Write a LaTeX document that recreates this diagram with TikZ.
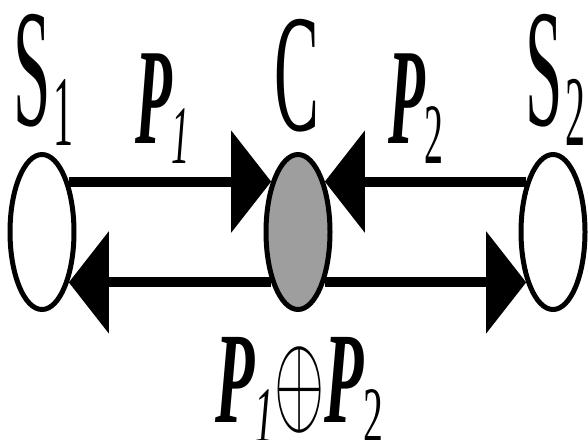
\documentclass[tikz,border=0pt]{standalone}
\usepackage{fix-cm}
\usepackage{fontspec}
\usetikzlibrary{shapes.geometric,arrows.meta}
\newfontfamily\tms{Liberation Serif}
\definecolor{cfill}{RGB}{158,158,158}

\begin{document}
\begin{tikzpicture}[x=1pt,y=-1pt,
  party/.style={ellipse, draw, line width=5pt, minimum width=64pt, minimum height=155pt, inner sep=0pt},
  flow/.style={line width=10pt, -{Triangle[length=40pt,width=100pt]}},
  lbl/.style={inner sep=0pt, anchor=base west, xscale=0.4, font=\tms}]
  \useasboundingbox (0,0) rectangle (588,439);

  % Teilnehmer
  \node[party] (S1) at (42,232) {};
  \node[party, fill=cfill] (C) at (298,232) {};
  \node[party] (S2) at (553,232) {};

  % Pakete hin
  \draw[flow] (S1.62) -- (C.118);
  \draw[flow] (S2.118) -- (C.62);
  % Kombination zurueck
  \draw[flow] (C.242) -- (S1.298);
  \draw[flow] (C.298) -- (S2.242);

  % Beschriftung
  \node[lbl] (s1lbl) at (13,125) {\fontsize{168}{168}\selectfont S\kern8pt\raisebox{-20pt}{\fontsize{100}{100}\selectfont 1}};
  \node[lbl] (clbl) at (274,130) {\fontsize{168}{168}\selectfont C};
  \node[lbl] (s2lbl) at (525,125) {\fontsize{168}{168}\selectfont S\kern8pt\raisebox{-20pt}{\fontsize{100}{100}\selectfont 2}};
  \node[lbl, xscale=1.1] (p1lbl) at (135,143) {\bfseries\itshape\fontsize{137}{137}\selectfont P\raisebox{-20pt}{\mdseries\fontsize{83}{83}\selectfont 1}};
  \node[lbl, xscale=1.1] (p2lbl) at (388,143) {\bfseries\itshape\fontsize{137}{137}\selectfont P\raisebox{-20pt}{\mdseries\upshape\fontsize{86}{86}\selectfont 2}};
  \node[lbl, xscale=1.24] (xorlbl) at (215,422) {\bfseries\itshape\fontsize{130}{130}\selectfont P\raisebox{-20pt}{\mdseries\fontsize{80}{80}\selectfont 1}$\oplus$P\raisebox{-20pt}{\mdseries\upshape\fontsize{80}{80}\selectfont 2}};
\end{tikzpicture}
\end{document}
